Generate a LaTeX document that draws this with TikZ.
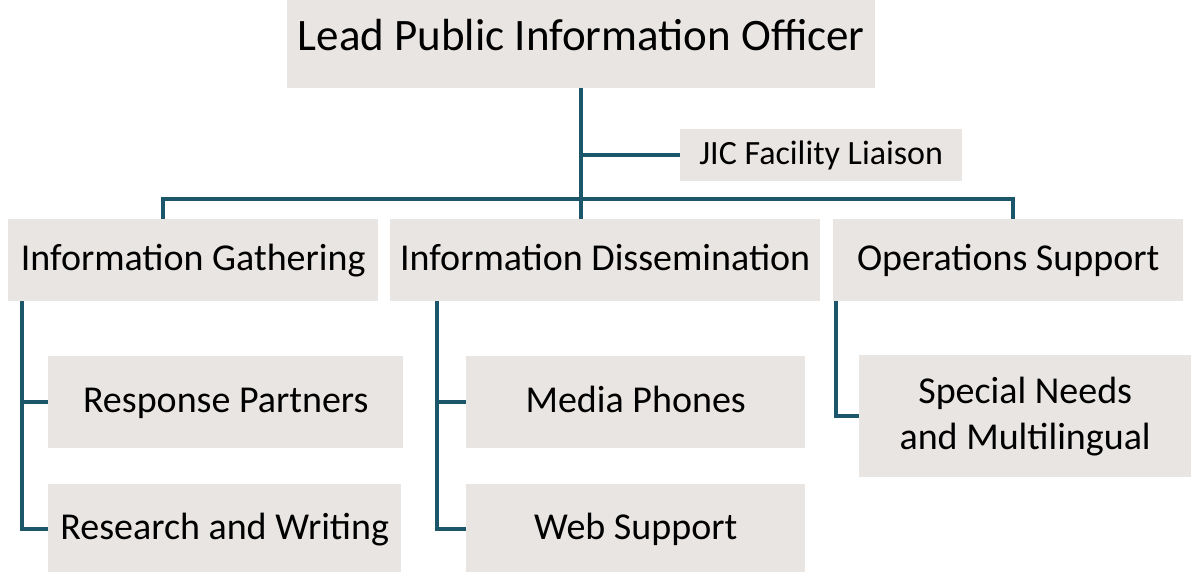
\documentclass[tikz,border=0pt]{standalone}
\usepackage{fontspec}
\setmainfont{Carlito}
\definecolor{linkteal}{HTML}{1B566B}
\definecolor{boxgray}{HTML}{E8E5E2}

\begin{document}
\begin{tikzpicture}[x=1pt,y=-1pt,
    box/.style={fill=boxgray, inner sep=0pt, anchor=north west, align=center},
    oneline/.style={box, text height=28pt, text depth=8pt},
    link/.style={draw=linkteal, line width=4pt}]
  \useasboundingbox (0,0) rectangle (1193,572);

  % top of the tree
  \node[box, minimum width=588pt, minimum height=88pt, text depth=18pt,
        font=\fontsize{45}{50}\selectfont] (lead) at (287,0) {Lead Public Information Officer};
  \node[oneline, minimum width=282pt, minimum height=52pt, text height=25pt, text depth=7pt,
        font=\fontsize{34}{38}\selectfont] (jic) at (680,129) {JIC Facility Liaison};

  % second row
  \node[oneline, minimum width=370pt, minimum height=82pt,
        font=\fontsize{38}{44}\selectfont] (gath) at (8,219) {Information Gathering};
  \node[oneline, minimum width=430pt, minimum height=82pt,
        font=\fontsize{38}{44}\selectfont] (diss) at (390,219) {Information Dissemination};
  \node[oneline, minimum width=350pt, minimum height=82pt,
        font=\fontsize{38}{44}\selectfont] (ops) at (833,219) {Operations Support};

  % third row
  \node[oneline, minimum width=355pt, minimum height=92pt,
        font=\fontsize{38}{44}\selectfont] (resp) at (48,356) {Response Partners};
  \node[oneline, minimum width=353pt, minimum height=90pt,
        font=\fontsize{38}{44}\selectfont] (res) at (48,484) {Research and Writing};
  \node[oneline, minimum width=339pt, minimum height=92pt,
        font=\fontsize{38}{44}\selectfont] (media) at (466,356) {Media Phones};
  \node[oneline, minimum width=339pt, minimum height=90pt,
        font=\fontsize{38}{44}\selectfont] (web) at (466,484) {Web Support};
  \node[box, minimum width=332pt, minimum height=122pt,
        font=\fontsize{38}{46}\selectfont] (spec) at (859,355) {Special Needs\\ and Multilingual};

  % connectors
  \coordinate (stem) at (581,0);
  \coordinate (barL) at (163,199);
  \coordinate (barR) at (1013,199);
  \draw[link] (stem |- lead.south) -- (stem |- diss.north);
  \draw[link] (stem |- jic.west) -- (jic.west);
  \draw[link] (barL |- gath.north) -- (barL) -- (barR) -- (barR |- ops.north);

  \coordinate (gx) at (22,0);
  \coordinate (dx) at (437,0);
  \coordinate (ox) at (836,0);
  \draw[link] (gx |- gath.south) -- (gx |- res.west) -- (res.west);
  \draw[link] (gx |- resp.west) -- (resp.west);
  \draw[link] (dx |- diss.south) -- (dx |- web.west) -- (web.west);
  \draw[link] (dx |- media.west) -- (media.west);
  \draw[link] (ox |- ops.south) -- (ox |- spec.west) -- (spec.west);
\end{tikzpicture}
\end{document}
